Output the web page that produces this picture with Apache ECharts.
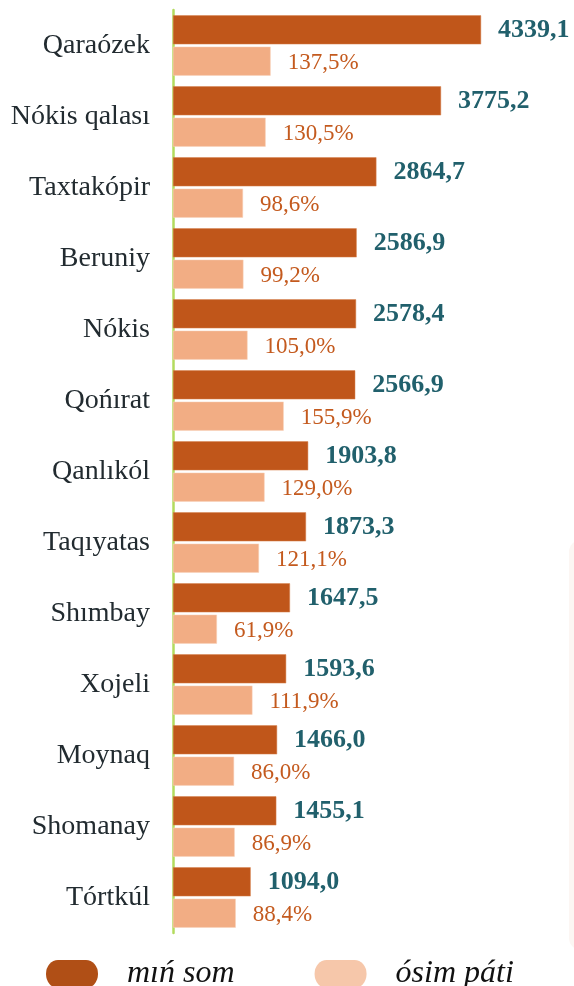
<!DOCTYPE html>
<html>
<head>
<meta charset="utf-8">
<script src="https://cdn.jsdelivr.net/npm/echarts@6/dist/echarts.min.js"></script>
<style>
  html, body { margin: 0; padding: 0; background: #ffffff; }
  #main { width: 574px; height: 986px; }
</style>
</head>
<body>
<div id="main"></div>
<script>
var regions = ['Qaraózek', 'Nókis qalası', 'Taxtakópir', 'Beruniy', 'Nókis', 'Qońırat',
  'Qanlıkól', 'Taqıyatas', 'Shımbay', 'Xojeli', 'Moynaq', 'Shomanay', 'Tórtkúl'];
var somValues = [4339.1, 3775.2, 2864.7, 2586.9, 2578.4, 2566.9, 1903.8, 1873.3, 1647.5, 1593.6, 1466.0, 1455.1, 1094.0];
var growthValues = [137.5, 130.5, 98.6, 99.2, 105.0, 155.9, 129.0, 121.1, 61.9, 111.9, 86.0, 86.9, 88.4];
var seriesNames = ['mıń som', 'ósim páti'];

var serif = "'Liberation Serif', 'Times New Roman', serif";
// pill shaped legend marker
var pill = 'path://M12,0 H40 A12,14 0 0 1 40,28 H12 A12,14 0 0 1 12,0 Z';

function comma(v) {
  return v.toFixed(1).replace('.', ',');
}

var chart = echarts.init(document.getElementById('main'), null, { renderer: 'canvas' });

var option = {
  backgroundColor: '#ffffff',
  animation: false,
  graphic: [{
    type: 'rect',
    shape: { x: 569, y: 540, width: 30, height: 410, r: 12 },
    style: { fill: '#fcf6f3' },
    z: -1
  }],
  legend: {
    left: 41,
    top: 953,
    itemWidth: 52,
    itemHeight: 28,
    itemGap: 80,
    icon: pill,
    textStyle: {
      fontFamily: serif,
      fontStyle: 'italic',
      fontSize: 32,
      color: '#111111',
      padding: [0, 0, 0, 24]
    },
    data: [
      { name: seriesNames[0], itemStyle: { color: '#b04f16', borderWidth: 0 } },
      { name: seriesNames[1], itemStyle: { color: '#f6c7aa', borderWidth: 0 } }
    ]
  },
  grid: { left: 173, top: 10, width: 355, height: 923 },
  xAxis: [
    { type: 'value', min: 0, max: 5000, show: false },
    { type: 'value', min: 0, max: 500, show: false }
  ],
  yAxis: {
    type: 'category',
    inverse: true,
    data: regions,
    axisLine: { show: true, lineStyle: { color: '#b3db5e', width: 2.5 } },
    axisTick: { show: false },
    axisLabel: {
      margin: 23,
      fontFamily: serif,
      fontSize: 28,
      color: '#222b30'
    }
  },
  series: [
    {
      name: seriesNames[0],
      type: 'bar',
      xAxisIndex: 0,
      data: somValues,
      barWidth: 29,
      barGap: '8%',
      itemStyle: { color: '#c0561a', borderColor: '#d7834f', borderWidth: 0.5 },
      label: {
        show: true,
        position: 'right',
        distance: 17,
        formatter: function (p) { return comma(p.value); },
        fontFamily: serif,
        fontWeight: 'bold',
        fontSize: 26,
        color: '#21606c'
      }
    },
    {
      name: seriesNames[1],
      type: 'bar',
      xAxisIndex: 1,
      data: growthValues,
      barWidth: 29,
      itemStyle: { color: '#f2ad84', borderColor: '#f8d2ba', borderWidth: 0.5 },
      label: {
        show: true,
        position: 'right',
        distance: 17,
        offset: [0, 2],
        formatter: function (p) { return comma(p.value) + '%'; },
        fontFamily: serif,
        fontSize: 23,
        color: '#c45a1e'
      }
    }
  ]
};

chart.setOption(option);
</script>
</body>
</html>
